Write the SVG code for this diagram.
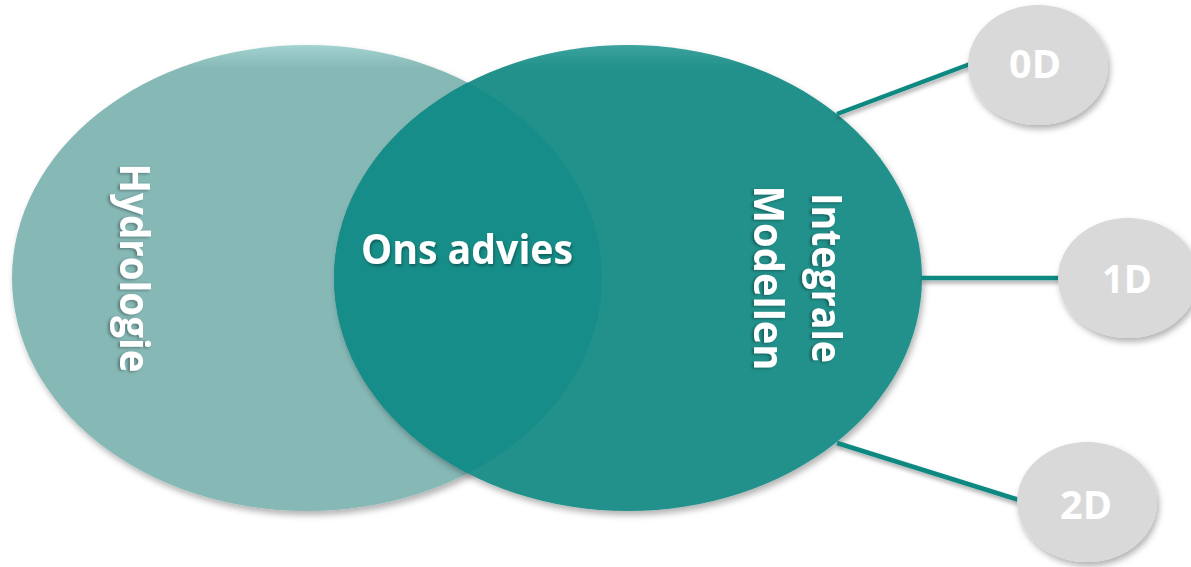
<svg xmlns="http://www.w3.org/2000/svg" width="1191" height="567" viewBox="0 0 1191 567">
  <defs>
    <filter id="shadow" x="-10%" y="-10%" width="120%" height="125%">
      <feDropShadow dx="2" dy="4" stdDeviation="3" flood-color="#000" flood-opacity="0.3"/>
    </filter>
    <filter id="lineShadow" x="-5%" y="-50%" width="110%" height="200%">
      <feDropShadow dx="1" dy="3" stdDeviation="2" flood-color="#000" flood-opacity="0.35"/>
    </filter>
    <filter id="textShadow" x="-10%" y="-10%" width="120%" height="120%">
      <feDropShadow dx="1" dy="2" stdDeviation="1.5" flood-color="#000" flood-opacity="0.35"/>
    </filter>
    <clipPath id="rightClip">
      <ellipse cx="628" cy="278" rx="294" ry="233"/>
    </clipPath>
    <linearGradient id="topSheen" x1="0" y1="0" x2="0" y2="1">
      <stop offset="0" stop-color="#a2d3d1"/>
      <stop offset="0.05" stop-color="#86b8b6"/>
      <stop offset="1" stop-color="#86b8b6"/>
    </linearGradient>
    <linearGradient id="topSheen2" x1="0" y1="0" x2="0" y2="1">
      <stop offset="0" stop-color="#3ba39e"/>
      <stop offset="0.05" stop-color="#23918b"/>
      <stop offset="1" stop-color="#23918b"/>
    </linearGradient>
  </defs>
  <style>
    .lbl { font-family: "Open Sans", "Liberation Sans", sans-serif; font-weight: bold; fill: #ffffff; }
    .big { font-size: 41px; }
    .side { font-size: 41px; }
    .small { font-size: 39px; }
    .conn { stroke: #0e8982; stroke-width: 4.5; fill: none; stroke-linecap: butt; }
    .sat { fill: #d9d9d9; }
  </style>

  <g id="hydrologie">
    <ellipse cx="307" cy="278" rx="295" ry="233" fill="url(#topSheen)" filter="url(#shadow)"/>
    <text class="lbl side" transform="translate(120,268) rotate(90)" text-anchor="middle" textLength="209" lengthAdjust="spacingAndGlyphs" filter="url(#textShadow)">Hydrologie</text>
  </g>

  <g id="integrale-modellen">
    <ellipse cx="628" cy="278" rx="294" ry="233" fill="url(#topSheen2)" filter="url(#shadow)"/>
    <g clip-path="url(#rightClip)">
      <ellipse cx="307" cy="278" rx="295" ry="233" fill="#168d88"/>
    </g>
    <text class="lbl side" transform="translate(812,278) rotate(90)" text-anchor="middle" textLength="170" lengthAdjust="spacingAndGlyphs" filter="url(#textShadow)">Integrale</text>
    <text class="lbl side" transform="translate(754,278) rotate(90)" text-anchor="middle" textLength="185" lengthAdjust="spacingAndGlyphs" filter="url(#textShadow)">Modellen</text>
  </g>

  <g id="ons-advies">
    <text class="lbl big" x="467" y="264" text-anchor="middle" textLength="212" lengthAdjust="spacingAndGlyphs" filter="url(#textShadow)">Ons advies</text>
  </g>

  <g id="connectors" filter="url(#lineShadow)">
    <line class="conn" x1="837" y1="114" x2="970" y2="64"/>
    <line class="conn" x1="921" y1="278" x2="1060" y2="278"/>
    <line class="conn" x1="837" y1="443" x2="1019" y2="500"/>
  </g>

  <g id="node-0d">
    <ellipse class="sat" cx="1038" cy="65" rx="70" ry="60" filter="url(#shadow)"/>
    <text class="lbl small" x="1035" y="78" text-anchor="middle" textLength="52" lengthAdjust="spacingAndGlyphs">0D</text>
  </g>
  <g id="node-1d">
    <ellipse class="sat" cx="1128" cy="278" rx="70" ry="60" filter="url(#shadow)"/>
    <text class="lbl small" x="1127" y="293" text-anchor="middle" textLength="50" lengthAdjust="spacingAndGlyphs">1D</text>
  </g>
  <g id="node-2d">
    <ellipse class="sat" cx="1087" cy="502" rx="70" ry="60" filter="url(#shadow)"/>
    <text class="lbl small" x="1086" y="519" text-anchor="middle" textLength="52" lengthAdjust="spacingAndGlyphs">2D</text>
  </g>
</svg>
